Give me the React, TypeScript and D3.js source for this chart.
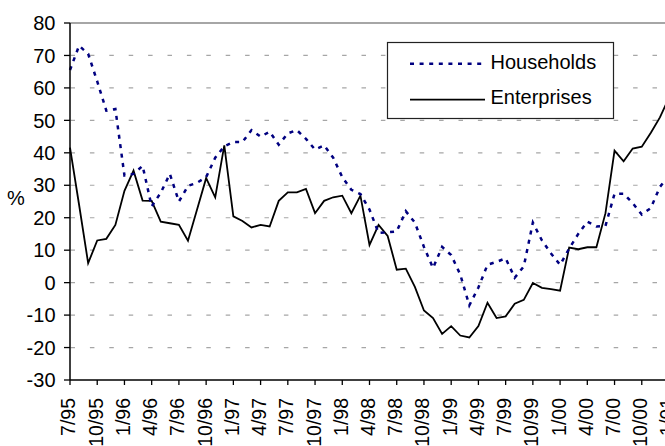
import React from "react";
import * as d3 from "d3";

const tickLabels = ["7/95","10/95","1/96","4/96","7/96","10/96","1/97","4/97","7/97","10/97","1/98","4/98","7/98","10/98","1/99","4/99","7/99","10/99","1/00","4/00","7/00","10/00","1/01"];

const households = [65.5,73,70.5,62,53,53.5,33,33.5,36,23.5,27.7,33.5,25,29.8,30.8,32.5,38.5,42,43.3,43.3,47,45,46.5,42.5,46,47,44.3,41,42.3,38.5,32.5,28.6,27.3,22.5,15.3,15.5,15.8,22,18.5,11,4.5,11,8.5,2.5,-7,-1.5,5.5,6.4,7.5,1.5,5,18.5,13,9,5.5,10.5,15,18.8,17.3,17.5,27.4,27.4,24.5,21,23,29.5,33];

const enterprises = [41.6,24,6,13,13.5,17.8,28.3,34.5,25.3,25.2,18.8,18.3,17.8,12.9,22.5,32.2,26.3,42.3,20.4,19,17,17.8,17.3,25.2,27.8,27.8,28.9,21.4,25.2,26.3,26.8,21.4,26.8,11.6,17.8,14.4,4,4.3,-1.3,-8.6,-10.9,-15.8,-13.4,-16.3,-16.9,-13.4,-6.2,-10.9,-10.4,-6.5,-5.3,-0.1,-1.6,-2,-2.5,10.8,10.3,10.9,10.9,21.4,40.7,37.4,41.3,41.9,46.2,50.9,57];

const yTicks = [-30,-20,-10,0,10,20,30,40,50,60,70,80];
const seriesNames = ["Households", "Enterprises"];

const W = 665, H = 446;
const L = 70, R = 669, T = 23, B = 380;
const FONT = "'Liberation Sans', Arial, Helvetica, sans-serif";

export default function App() {
  const x = d3.scaleLinear().domain([0, households.length - 1]).range([L, R]);
  const y = d3.scaleLinear().domain([-30, 80]).range([B, T]);
  const line = d3.line<number>().x((_, i) => x(i)).y((d) => y(d));

  return (
    <svg width={W} height={H} style={{ position: "absolute", left: 0, top: 0, background: "#fff" }} fontFamily={FONT}>
      {/* gridlines */}
      {yTicks.filter((v) => v > -30 && v < 80).map((v) => (
        <line key={"g" + v} x1={L + 0.5} x2={W} y1={y(v)} y2={y(v)} stroke="#a6a6a6" strokeWidth={1.2} strokeDasharray="4.5 14.9" />
      ))}
      {/* top border */}
      <line x1={L} x2={W} y1={y(80)} y2={y(80)} stroke="#888" strokeWidth={1.6} />
      {/* series */}
      <path d={line(enterprises) || ""} fill="none" stroke="#000" strokeWidth={1.8} strokeLinejoin="miter" />
      <path d={line(households) || ""} fill="none" stroke="#000080" strokeWidth={2.5} strokeDasharray="4 5.5" />
      {/* axes */}
      <line x1={L} x2={L} y1={T} y2={B} stroke="#000" strokeWidth={1.5} />
      <line x1={L} x2={W} y1={B} y2={B} stroke="#000" strokeWidth={1.5} />
      {yTicks.map((v) => (
        <g key={"y" + v}>
          <line x1={L - 6} x2={L} y1={y(v)} y2={y(v)} stroke="#000" strokeWidth={1.3} />
          <text x={55.5} y={y(v)} dy="0.36em" textAnchor="end" fontSize={20} fill="#000">{v}</text>
        </g>
      ))}
      {tickLabels.map((lab, k) => {
        const xi = x(k * 3);
        return (
          <g key={"x" + lab}>
            <line x1={xi} x2={xi} y1={B} y2={B + 5} stroke="#000" strokeWidth={1.3} />
            <text transform={`translate(${xi},398) rotate(-90)`} dy="0.28em" textAnchor="end" fontSize={19.5} fill="#000">{lab}</text>
          </g>
        );
      })}
      <text x={7} y={204.5} fontSize={20} fill="#000">%</text>
      {/* legend */}
      <rect x={387.5} y={42.5} width={226} height={76} fill="#fff" stroke="#222" strokeWidth={1.2} />
      <line x1={410} x2={482} y1={63.7} y2={63.7} stroke="#000080" strokeWidth={2.5} strokeDasharray="4 5.6" />
      <line x1={410} x2={485} y1={99.7} y2={99.7} stroke="#000" strokeWidth={1.8} />
      <text x={490.5} y={68.5} fontSize={20} fill="#000">{seriesNames[0]}</text>
      <text x={490.5} y={104} fontSize={20} fill="#000">{seriesNames[1]}</text>
    </svg>
  );
}
